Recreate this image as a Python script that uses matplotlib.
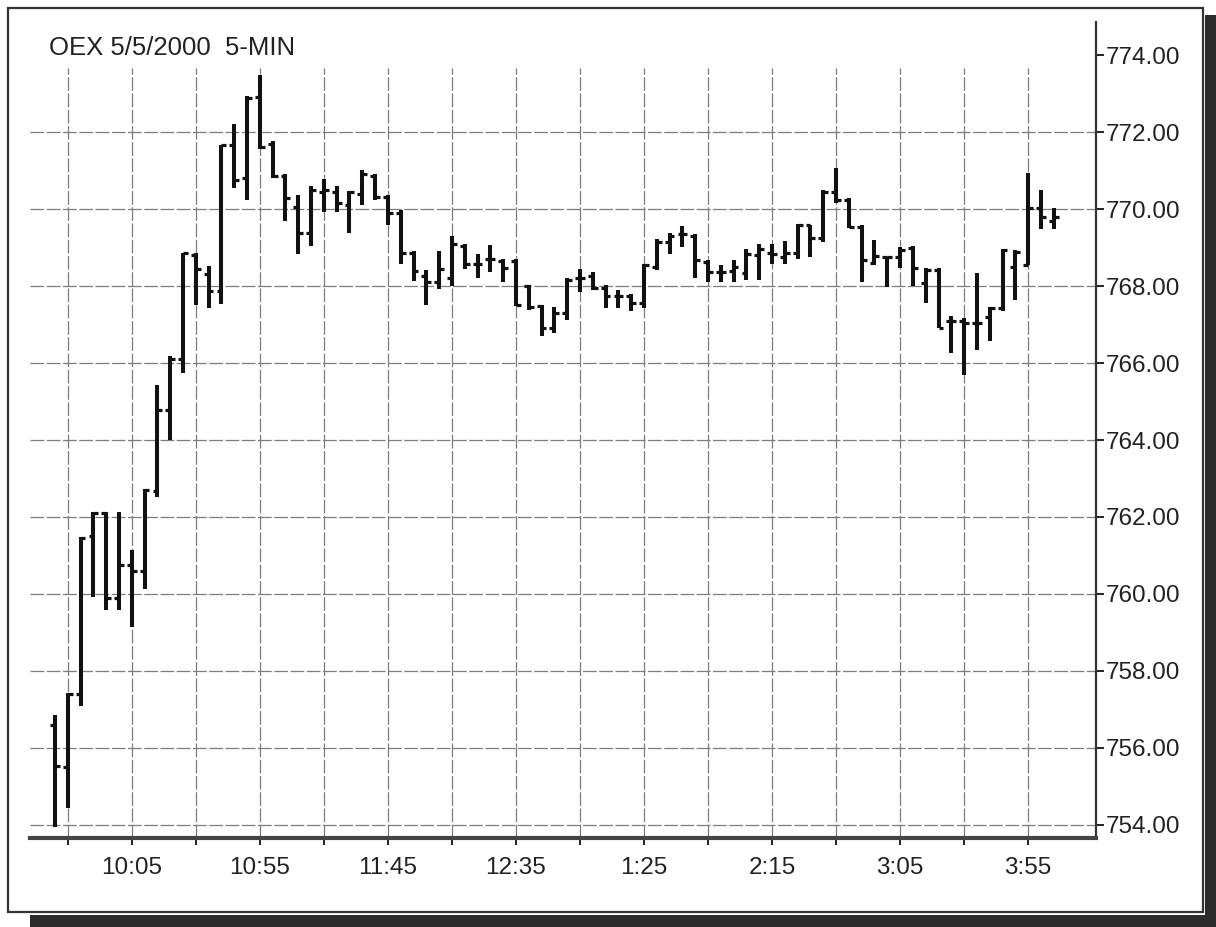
import matplotlib
matplotlib.use("Agg")
import matplotlib.pyplot as plt
from matplotlib.patches import Rectangle
import numpy as np
import pandas as pd

plt.rcParams['font.family'] = ['Liberation Sans', 'DejaVu Sans']

# OEX 5-minute bars, 5/5/2000 (bar end times 9:35 ... 4:05)
opens = [756.60, 755.50, 757.40, 761.50, 762.10, 759.90, 760.75, 760.60, 762.68, 764.78,
         766.10, 768.80, 768.30, 767.87, 771.66, 770.80, 772.90, 771.70, 770.87, 770.06,
         769.38, 770.44, 770.44, 770.10, 770.40, 770.87, 770.32, 769.89, 768.86, 768.27,
         768.10, 768.22, 769.05, 768.56, 768.70, 768.65, 768.65, 768.00, 767.47, 766.91,
         767.30, 768.20, 768.25, 767.95, 767.75, 767.73, 767.55, 768.50, 769.14, 769.36,
         769.31, 768.62, 768.37, 768.40, 768.35, 768.80, 768.85, 768.75, 768.85, 769.58,
         769.24, 770.45, 770.23, 769.54, 768.60, 768.76, 768.76, 769.00, 768.09, 768.42,
         767.10, 767.10, 767.03, 767.20, 767.42, 768.50, 768.55, 770.02, 769.70]
highs = [756.86, 757.44, 761.47, 762.14, 762.14, 762.14, 761.14, 762.73, 765.43, 766.18,
         768.87, 768.87, 768.52, 771.66, 772.21, 772.95, 773.48, 771.77, 770.91, 770.36,
         770.59, 770.79, 770.59, 770.47, 771.02, 770.91, 770.36, 769.97, 768.91, 768.42,
         768.91, 769.29, 769.08, 768.82, 769.06, 768.69, 768.69, 768.04, 767.50, 767.45,
         768.22, 768.45, 768.37, 768.03, 767.91, 767.79, 768.58, 769.23, 769.37, 769.57,
         769.36, 768.67, 768.54, 768.67, 768.95, 769.08, 769.10, 769.16, 769.62, 769.58,
         770.49, 771.06, 770.28, 769.58, 769.19, 768.76, 769.02, 769.04, 768.46, 768.46,
         767.22, 767.16, 768.33, 767.46, 768.95, 768.94, 770.94, 770.49, 770.02]
lows = [753.94, 754.43, 757.09, 759.91, 759.58, 759.58, 759.13, 760.13, 762.51, 764.00,
        765.75, 767.51, 767.42, 767.53, 770.56, 770.23, 771.56, 770.81, 769.68, 768.82,
        769.03, 769.93, 769.93, 769.38, 770.10, 770.23, 769.59, 768.56, 768.14, 767.50,
        767.92, 768.00, 768.44, 768.22, 768.37, 768.11, 767.47, 767.37, 766.70, 766.78,
        767.12, 767.85, 767.90, 767.42, 767.42, 767.34, 767.42, 768.41, 768.82, 769.01,
        768.20, 768.11, 768.11, 768.11, 768.17, 768.17, 768.56, 768.56, 768.69, 768.76,
        769.15, 770.15, 769.50, 768.11, 768.55, 767.98, 768.46, 768.00, 767.55, 766.90,
        766.25, 765.69, 766.35, 766.58, 767.36, 767.64, 768.55, 769.47, 769.47]
closes = [755.52, 757.40, 761.45, 762.10, 759.90, 760.75, 760.60, 762.70, 764.78, 766.10,
          768.87, 768.45, 767.87, 771.66, 770.75, 772.88, 771.60, 770.85, 770.30, 769.38,
          770.49, 770.49, 770.15, 770.44, 770.91, 770.32, 769.89, 768.86, 768.39, 768.10,
          768.44, 769.08, 768.56, 768.56, 768.70, 768.48, 767.50, 767.45, 766.91, 767.30,
          768.15, 768.20, 767.94, 767.73, 767.73, 767.55, 768.54, 769.14, 769.31, 769.36,
          768.67, 768.37, 768.37, 768.50, 768.82, 768.97, 768.82, 768.85, 769.59, 769.24,
          770.45, 770.23, 769.54, 768.68, 768.78, 768.76, 768.93, 768.46, 768.42, 766.90,
          767.10, 767.03, 767.03, 767.42, 768.93, 768.89, 770.02, 769.80, 769.80]

tick_labels = ['10:05', '10:55', '11:45', '12:35', '1:25', '2:15', '3:05', '3:55']
minor_times = ['9:40', '10:30', '11:20', '12:10', '1:00', '1:50', '2:40', '3:30']
y_ticks = [754, 756, 758, 760, 762, 764, 766, 768, 770, 772, 774]

times = [t.strftime('%-I:%M') for t in
         pd.date_range('2000-05-05 09:35', periods=len(opens), freq='5min')]
x = np.arange(len(opens))
major_pos = [times.index(t) for t in tick_labels]
minor_pos = [times.index(t) for t in minor_times]

W, H = 1216, 927
fig = plt.figure(figsize=(W / 100, H / 100), dpi=100)
fig.patch.set_facecolor('white')


def fx(px):
    return px / W


def fy(py):
    return 1 - py / H


ax = fig.add_axes([fx(30), fy(838), fx(1096) - fx(30), fy(22) - fy(838)])
ax.set_xlim(-1.95, 81.3)
ax.set_ylim(753.66, 774.86)

# grid (no line at the top level, vertical lines stop below the title)
grid_kw = dict(color='#7d7d7d', linewidth=0.9, linestyle=(0, (11, 2)), zorder=1)
for yv in y_ticks[:-1]:
    ax.axhline(yv, **grid_kw)
for xv in major_pos + minor_pos:
    ax.axvline(xv, ymin=0, ymax=0.944, **grid_kw)

# OHLC bars
bar_col = '#111111'
ax.vlines(x, lows, highs, color=bar_col, linewidth=2.9, zorder=3)
ax.hlines(opens, x - 0.38, x, color=bar_col, linewidth=2.3, zorder=3)
ax.hlines(closes, x, x + 0.38, color=bar_col, linewidth=2.3, zorder=3)

for s in ['top', 'left']:
    ax.spines[s].set_visible(False)
ax.spines['right'].set_color('#333333')
ax.spines['right'].set_linewidth(1.6)
ax.spines['bottom'].set_color('#444444')
ax.spines['bottom'].set_linewidth(3.0)

ax.yaxis.tick_right()
ax.set_yticks(y_ticks)
ax.set_yticklabels([f'{v:.2f}' for v in y_ticks])
ax.tick_params(axis='y', direction='out', length=6, width=1.4, pad=1,
               labelsize=17.5, colors='#222222', left=False)

ax.set_xticks(major_pos)
ax.set_xticklabels(tick_labels)
ax.set_xticks(minor_pos, minor=True)
ax.tick_params(axis='x', which='both', direction='out', length=5, width=1.4,
               pad=9, labelsize=17.5, colors='#222222')

fig.text(fx(49), fy(48), 'OEX 5/5/2000  5-MIN', fontsize=18.5, color='#222222',
         ha='left', va='center')

# outer frame with drop shadow
fig.patches.append(Rectangle((fx(8), fy(912)), fx(1203) - fx(8), fy(8) - fy(912),
                             transform=fig.transFigure, fill=False,
                             edgecolor='#333333', linewidth=1.6))
fig.patches.append(Rectangle((fx(1205), fy(927)), fx(1216) - fx(1205), fy(15) - fy(927),
                             transform=fig.transFigure, facecolor='#2b2b2b',
                             edgecolor='none'))
fig.patches.append(Rectangle((fx(30), fy(927)), fx(1216) - fx(30), fy(915) - fy(927),
                             transform=fig.transFigure, facecolor='#2b2b2b',
                             edgecolor='none'))

fig.savefig('out.png', dpi=100, facecolor='white')
